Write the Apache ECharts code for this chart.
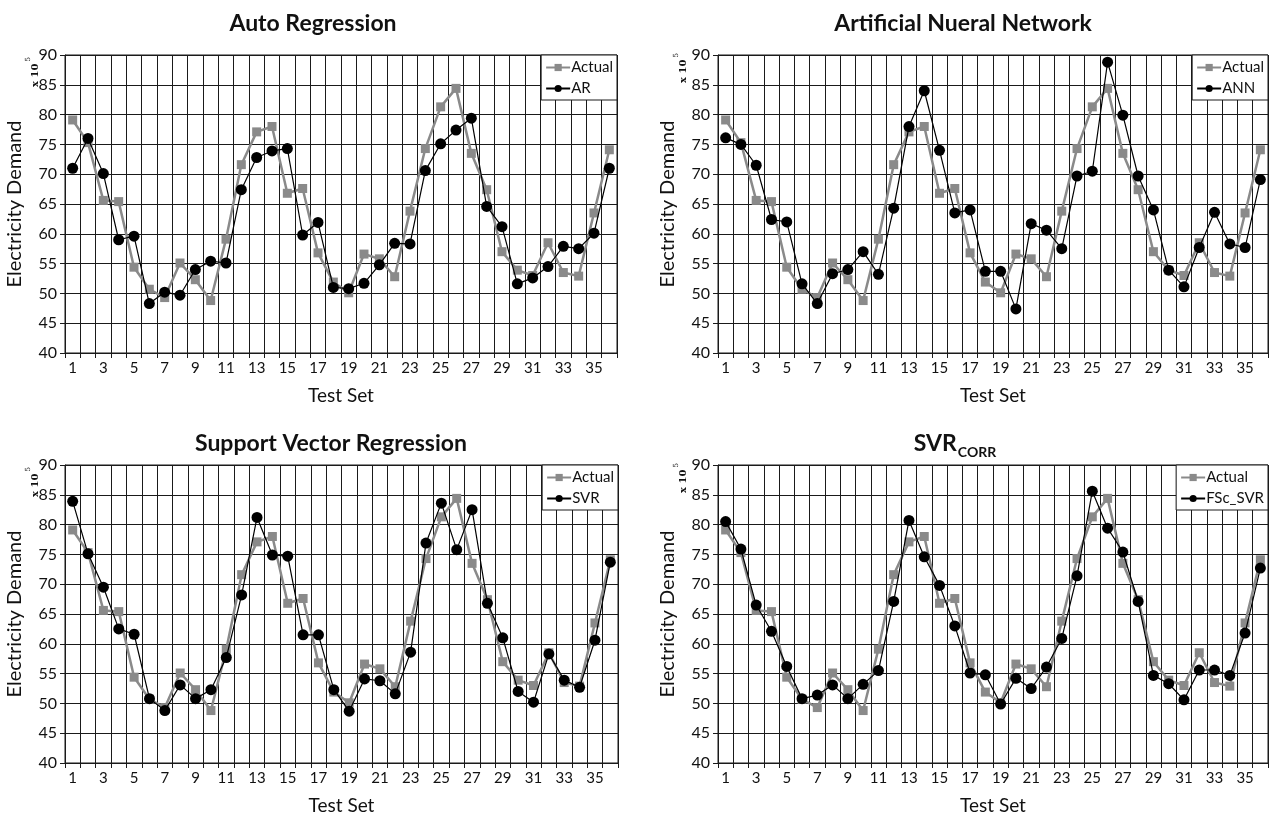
<!DOCTYPE html>
<html><head><meta charset="utf-8">
<script src="https://cdn.jsdelivr.net/npm/echarts@6/dist/echarts.min.js"></script>
<style>html,body{margin:0;padding:0;background:#fff}#c{width:1273px;height:816px}</style>
</head><body><div id="c"></div>
<script>
const testSets = ['1','2','3','4','5','6','7','8','9','10','11','12','13','14','15','16','17','18','19','20','21','22','23','24','25','26','27','28','29','30','31','32','33','34','35','36'];
const actual = [79.1, 75.3, 65.6, 65.4, 54.4, 50.7, 49.3, 55.1, 52.3, 48.8, 59.1, 71.6, 77.1, 78.0, 66.8, 67.6, 56.8, 51.9, 50.1, 56.6, 55.8, 52.8, 63.8, 74.3, 81.3, 84.4, 73.5, 67.4, 57.0, 53.9, 53.0, 58.5, 53.5, 52.9, 63.5, 74.1];
const arPred = [71.0, 76.0, 70.1, 59.0, 59.6, 48.3, 50.2, 49.7, 54.0, 55.4, 55.1, 67.4, 72.8, 73.9, 74.3, 59.8, 61.9, 51.0, 50.8, 51.7, 54.8, 58.4, 58.3, 70.6, 75.1, 77.4, 79.4, 64.6, 61.2, 51.6, 52.6, 54.5, 57.9, 57.5, 60.1, 71.0];
const annPred = [76.1, 75.0, 71.5, 62.4, 62.0, 51.6, 48.3, 53.3, 54.0, 57.0, 53.2, 64.3, 78.0, 84.0, 74.0, 63.5, 64.0, 53.7, 53.7, 47.4, 61.7, 60.6, 57.5, 69.7, 70.5, 88.8, 79.9, 69.7, 64.0, 53.9, 51.1, 57.7, 63.6, 58.3, 57.7, 69.1];
const svrPred = [83.9, 75.1, 69.5, 62.5, 61.6, 50.8, 48.8, 53.1, 50.8, 52.3, 57.7, 68.2, 81.2, 74.9, 74.7, 61.5, 61.5, 52.3, 48.7, 54.1, 53.8, 51.6, 58.6, 76.9, 83.6, 75.8, 82.5, 66.8, 61.0, 52.0, 50.2, 58.3, 53.9, 52.7, 60.6, 73.7];
const fscSvrPred = [80.5, 75.9, 66.5, 62.1, 56.2, 50.8, 51.4, 53.1, 50.8, 53.2, 55.5, 67.1, 80.7, 74.6, 69.8, 63.0, 55.1, 54.8, 49.9, 54.2, 52.5, 56.1, 60.9, 71.4, 85.6, 79.4, 75.4, 67.1, 54.7, 53.3, 50.6, 55.6, 55.6, 54.7, 61.8, 72.7];
const panelTitles = ['Auto Regression', 'Artificial Nueral Network', 'Support Vector Regression', '{m|SVR}{s|CORR}'];
const modelNames = ['AR', 'ANN', 'SVR', 'FSc_SVR'];
const yMin = 40, yMax = 90, yStep = 5;
const xAxisName = 'Test Set';
const yAxisName = 'Electricity Demand';

const FONT = 'Lato';
const INK = '#1a1a1a';
const GRAY = '#8a8a8a';
const models = [arPred, annPred, svrPred, fscSvrPred];
const grids = [
  {left: 65, top: 55, width: 552, height: 298},
  {left: 718, top: 55, width: 550, height: 298},
  {left: 65, top: 465, width: 553, height: 298},
  {left: 718, top: 465, width: 550, height: 298}
];
const titleCenters = [[308, 7], [958, 7], [326, 427], [950, 427]];
const sciNotePos = [[33, 72], [681, 68], [33, 482], [681, 478]];

const option = {
  animation: false,
  backgroundColor: '#fff',
  title: panelTitles.map((t, i) => ({
    text: t, left: titleCenters[i][0], top: titleCenters[i][1], textAlign: 'center',
    textStyle: {fontFamily: FONT, fontSize: 23, fontWeight: 'bold', color: '#111',
      rich: {
        m: {fontFamily: FONT, fontSize: 23, fontWeight: 'bold', color: '#111', lineHeight: 26, verticalAlign: 'top'},
        s: {fontFamily: FONT, fontSize: 14, fontWeight: 'bold', color: '#111', lineHeight: 14, padding: [13, 0, 0, 1], verticalAlign: 'top'}
      }}
  })),
  grid: grids.map(g => Object.assign({containLabel: false, show: true, borderColor: INK, borderWidth: 1}, g)),
  legend: grids.map((g, i) => ({
    data: ['Actual', modelNames[i]],
    orient: 'vertical',
    right: 1273 - (g.left + g.width),
    top: g.top,
    backgroundColor: '#fff',
    borderColor: INK, borderWidth: 1, borderRadius: 0,
    padding: [5, 4, 4, 4],
    itemGap: 6,
    itemWidth: 24, itemHeight: 9,
    selectedMode: false,
    textStyle: {fontFamily: FONT, fontSize: 15, color: '#111', padding: [0, 0, 0, -4]},
    z: 10
  })),
  xAxis: grids.map((g, i) => ({
    type: 'category', gridIndex: i, data: testSets, boundaryGap: true,
    name: xAxisName, nameLocation: 'middle', nameGap: 33,
    nameTextStyle: {fontFamily: FONT, fontSize: 19, color: '#111'},
    axisLine: {lineStyle: {color: INK, width: 1}},
    axisTick: {show: true, interval: 0, length: 5, lineStyle: {color: INK}},
    axisLabel: {interval: 1, fontFamily: FONT, fontSize: 15, color: '#111', margin: 8},
    splitLine: {show: true, interval: 0, lineStyle: {color: INK, width: 1}}
  })),
  yAxis: grids.map((g, i) => ({
    type: 'value', gridIndex: i, min: yMin, max: yMax, interval: yStep,
    name: yAxisName, nameLocation: 'middle', nameGap: 40,
    nameTextStyle: {fontFamily: FONT, fontSize: 20, color: '#111'},
    axisLine: {show: true, lineStyle: {color: INK, width: 1}},
    axisTick: {show: true, length: 5, lineStyle: {color: INK}},
    axisLabel: {fontFamily: FONT, fontSize: 16, color: '#111', margin: 8},
    splitLine: {show: true, lineStyle: {color: INK, width: 1}}
  })),
  graphic: sciNotePos.map(p => ({
    type: 'text', x: p[0], y: p[1], rotation: Math.PI / 2,
    style: {
      text: '{a|x 10}{b|5}', align: 'center', verticalAlign: 'middle',
      rich: {
        a: {fontFamily: 'DejaVu Serif', fontSize: 10, fontWeight: 'bold', fill: '#111', lineHeight: 14, verticalAlign: 'bottom'},
        b: {fontFamily: 'DejaVu Serif', fontSize: 7, fill: '#111', lineHeight: 14, padding: [0, 0, 8, 2], verticalAlign: 'bottom'}
      }
    }
  })),
  series: []
};

grids.forEach((g, i) => {
  option.series.push({
    name: 'Actual', type: 'line', xAxisIndex: i, yAxisIndex: i, data: actual,
    symbol: 'rect', symbolSize: 9, showAllSymbol: true, color: GRAY,
    lineStyle: {color: GRAY, width: 2.5}, itemStyle: {color: GRAY}, z: 3
  });
  option.series.push({
    name: modelNames[i], type: 'line', xAxisIndex: i, yAxisIndex: i, data: models[i],
    symbol: 'circle', symbolSize: 11, showAllSymbol: true, color: '#000',
    lineStyle: {color: '#000', width: 1.2}, itemStyle: {color: '#000'}, z: 4
  });
});

const chart = echarts.init(document.getElementById('c'), null, {renderer: 'canvas'});
chart.setOption(option);
</script>
</body></html>
